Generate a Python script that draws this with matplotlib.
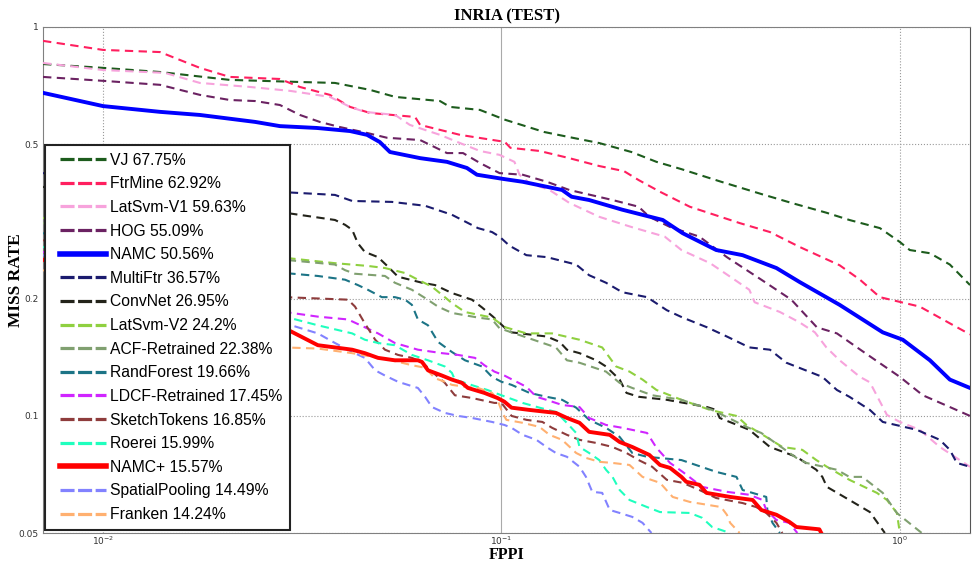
import matplotlib
matplotlib.use("Agg")
import matplotlib.pyplot as plt
import numpy as np

vj_fppi = [0.00707, 0.01, 0.0139, 0.0208, 0.0312, 0.0382, 0.0468, 0.0541, 0.0701, 0.0743, 0.0883, 0.1023, 0.128, 0.148, 0.176, 0.212, 0.245, 0.283, 0.356, 0.449, 0.534, 0.654, 0.747, 0.891, 1.0, 1.059, 1.19, 1.335, 1.5]
vj_mr = [0.803, 0.785, 0.766, 0.731, 0.722, 0.718, 0.689, 0.661, 0.645, 0.623, 0.612, 0.577, 0.537, 0.521, 0.503, 0.477, 0.450, 0.431, 0.400, 0.372, 0.353, 0.333, 0.319, 0.304, 0.280, 0.267, 0.262, 0.245, 0.217]

ftrmine_fppi = [0.00707, 0.01, 0.0139, 0.0175, 0.0208, 0.0278, 0.0312, 0.0371, 0.0417, 0.0468, 0.0607, 0.0625, 0.0787, 0.0989, 0.1015, 0.1053, 0.1246, 0.148, 0.176, 0.203, 0.221, 0.250, 0.297, 0.397, 0.472, 0.560, 0.706, 0.794, 0.891, 1.122, 1.335, 1.5]
ftrmine_mr = [0.921, 0.873, 0.862, 0.785, 0.744, 0.735, 0.701, 0.669, 0.623, 0.601, 0.587, 0.560, 0.528, 0.509, 0.509, 0.489, 0.480, 0.460, 0.439, 0.426, 0.404, 0.377, 0.345, 0.313, 0.297, 0.272, 0.244, 0.224, 0.202, 0.191, 0.173, 0.162]

latsvm1_fppi = [0.00707, 0.01, 0.0143, 0.0175, 0.0234, 0.0295, 0.0371, 0.0417, 0.0454, 0.0541, 0.0589, 0.0701, 0.0787, 0.0883, 0.0989, 0.1078, 0.1110, 0.1176, 0.132, 0.148, 0.176, 0.212, 0.257, 0.283, 0.334, 0.375, 0.419, 0.432, 0.500, 0.560, 0.612, 0.654, 0.706, 0.794, 0.841, 0.928, 1.0, 1.122, 1.26, 1.5]
latsvm1_mr = [0.808, 0.775, 0.762, 0.718, 0.701, 0.685, 0.661, 0.623, 0.605, 0.594, 0.560, 0.528, 0.503, 0.480, 0.469, 0.450, 0.417, 0.397, 0.381, 0.353, 0.325, 0.306, 0.289, 0.267, 0.247, 0.228, 0.211, 0.196, 0.185, 0.174, 0.164, 0.150, 0.139, 0.126, 0.122, 0.1006, 0.0965, 0.0921, 0.0832, 0.0740]

hog_fppi = [0.00707, 0.01, 0.0139, 0.0175, 0.0208, 0.0241, 0.0278, 0.0312, 0.0350, 0.0393, 0.0460, 0.0516, 0.0625, 0.0730, 0.0801, 0.0883, 0.0989, 0.113, 0.130, 0.148, 0.190, 0.221, 0.235, 0.265, 0.314, 0.368, 0.449, 0.534, 0.619, 0.695, 0.827, 1.0, 1.142, 1.335, 1.5]
hog_mr = [0.744, 0.727, 0.710, 0.669, 0.649, 0.645, 0.630, 0.594, 0.570, 0.553, 0.534, 0.519, 0.512, 0.474, 0.474, 0.447, 0.421, 0.417, 0.400, 0.381, 0.359, 0.345, 0.325, 0.306, 0.289, 0.256, 0.224, 0.199, 0.169, 0.163, 0.144, 0.126, 0.113, 0.1054, 0.100]

namc_fppi = [0.00707, 0.01, 0.0139, 0.0175, 0.0241, 0.0278, 0.0344, 0.0417, 0.0460, 0.0495, 0.0525, 0.0625, 0.0730, 0.0819, 0.0868, 0.1006, 0.113, 0.142, 0.150, 0.166, 0.201, 0.254, 0.285, 0.346, 0.403, 0.490, 0.560, 0.706, 0.906, 1.017, 1.19, 1.335, 1.5]
namc_mr = [0.677, 0.626, 0.605, 0.594, 0.570, 0.556, 0.550, 0.540, 0.528, 0.506, 0.477, 0.460, 0.450, 0.434, 0.417, 0.407, 0.400, 0.381, 0.366, 0.359, 0.339, 0.319, 0.295, 0.267, 0.259, 0.240, 0.221, 0.193, 0.164, 0.157, 0.139, 0.124, 0.118]

multiftr_fppi = [0.00707, 0.0286, 0.0382, 0.0422, 0.0531, 0.0643, 0.0751, 0.0873, 0.0947, 0.0989, 0.1047, 0.1155, 0.130, 0.154, 0.166, 0.183, 0.201, 0.232, 0.260, 0.285, 0.328, 0.368, 0.419, 0.472, 0.519, 0.639, 0.695, 0.747, 0.841, 0.906, 1.103, 1.26, 1.335, 1.39, 1.5]
multiftr_mr = [0.421, 0.376, 0.370, 0.357, 0.355, 0.347, 0.329, 0.304, 0.297, 0.289, 0.274, 0.259, 0.256, 0.245, 0.230, 0.220, 0.208, 0.202, 0.187, 0.179, 0.169, 0.160, 0.150, 0.148, 0.137, 0.126, 0.1166, 0.112, 0.1036, 0.0965, 0.0921, 0.0868, 0.0818, 0.0757, 0.074]

convnet_fppi = [0.00707, 0.0286, 0.0382, 0.0405, 0.0422, 0.0436, 0.0454, 0.0490, 0.0519, 0.0550, 0.0632, 0.0681, 0.0751, 0.0843, 0.0894, 0.0952, 0.1023, 0.106, 0.130, 0.140, 0.146, 0.157, 0.173, 0.183, 0.198, 0.206, 0.221, 0.260, 0.328, 0.346, 0.353, 0.419, 0.472, 0.550, 0.617, 0.639, 0.656, 0.747, 0.841, 0.917]
convnet_mr = [0.388, 0.333, 0.319, 0.310, 0.301, 0.278, 0.264, 0.256, 0.242, 0.228, 0.220, 0.217, 0.207, 0.199, 0.190, 0.180, 0.168, 0.164, 0.160, 0.155, 0.148, 0.145, 0.139, 0.134, 0.124, 0.1146, 0.112, 0.110, 0.1054, 0.1036, 0.0988, 0.0921, 0.0832, 0.0785, 0.0727, 0.0697, 0.0657, 0.0608, 0.0566, 0.05]

latsvm2_fppi = [0.00707, 0.0286, 0.0382, 0.0462, 0.0510, 0.0573, 0.0617, 0.0669, 0.0721, 0.0751, 0.081, 0.0947, 0.1023, 0.1155, 0.134, 0.157, 0.179, 0.194, 0.2096, 0.226, 0.245, 0.283, 0.334, 0.389, 0.412, 0.462, 0.507, 0.569, 0.617, 0.656, 0.747, 0.876, 0.928, 0.983, 1.0]
latsvm2_mr = [0.323, 0.255, 0.247, 0.243, 0.240, 0.233, 0.224, 0.215, 0.202, 0.195, 0.185, 0.179, 0.169, 0.163, 0.163, 0.157, 0.150, 0.134, 0.130, 0.124, 0.1166, 0.110, 0.1036, 0.100, 0.0948, 0.0883, 0.0832, 0.0818, 0.0770, 0.0740, 0.0685, 0.0634, 0.0608, 0.0563, 0.05]

acf_fppi = [0.00707, 0.0286, 0.0382, 0.0405, 0.0429, 0.0510, 0.0540, 0.0596, 0.0643, 0.0693, 0.0751, 0.0873, 0.0947, 0.0989, 0.106, 0.137, 0.146, 0.157, 0.183, 0.198, 0.213, 0.239, 0.283, 0.338, 0.380, 0.412, 0.449, 0.507, 0.550, 0.583, 0.695, 0.747, 0.805, 0.906, 0.983, 1.017, 1.135]
acf_mr = [0.313, 0.252, 0.245, 0.237, 0.232, 0.229, 0.220, 0.211, 0.201, 0.191, 0.184, 0.179, 0.177, 0.168, 0.164, 0.150, 0.139, 0.137, 0.130, 0.1216, 0.118, 0.113, 0.110, 0.1036, 0.0977, 0.0937, 0.0904, 0.0828, 0.078, 0.0757, 0.0727, 0.0697, 0.0697, 0.0634, 0.0563, 0.0547, 0.05]

randforest_fppi = [0.00707, 0.0286, 0.0346, 0.0405, 0.0436, 0.0462, 0.0501, 0.0540, 0.0573, 0.0596, 0.0617, 0.0654, 0.0693, 0.0751, 0.081, 0.0894, 0.0947, 0.1, 0.106, 0.1176, 0.1297, 0.142, 0.154, 0.166, 0.183, 0.198, 0.213, 0.232, 0.283, 0.346, 0.389, 0.403, 0.462, 0.465, 0.479, 0.500]
randforest_mr = [0.295, 0.233, 0.229, 0.224, 0.217, 0.211, 0.202, 0.202, 0.199, 0.193, 0.177, 0.171, 0.155, 0.146, 0.139, 0.134, 0.126, 0.1224, 0.1202, 0.1146, 0.112, 0.110, 0.105, 0.0977, 0.0932, 0.0883, 0.0803, 0.0785, 0.077, 0.0718, 0.0697, 0.0645, 0.0619, 0.0573, 0.0531, 0.05]

ldcf_fppi = [0.00707, 0.0286, 0.0346, 0.0412, 0.0454, 0.0490, 0.0540, 0.0617, 0.0709, 0.0778, 0.0858, 0.0906, 0.0960, 0.1017, 0.1155, 0.1224, 0.1297, 0.142, 0.157, 0.166, 0.183, 0.201, 0.232, 0.245, 0.265, 0.285, 0.319, 0.368, 0.419, 0.452, 0.462, 0.490, 0.528, 0.553]
ldcf_mr = [0.264, 0.185, 0.180, 0.177, 0.169, 0.163, 0.154, 0.148, 0.145, 0.1435, 0.141, 0.135, 0.130, 0.127, 0.1188, 0.112, 0.110, 0.1067, 0.1054, 0.0988, 0.0948, 0.0932, 0.0904, 0.0828, 0.0757, 0.0718, 0.0657, 0.0638, 0.0627, 0.0608, 0.0573, 0.0540, 0.0531, 0.05]

sketch_fppi = [0.00707, 0.0286, 0.0412, 0.0429, 0.0454, 0.0482, 0.0510, 0.0550, 0.0596, 0.0632, 0.0669, 0.0721, 0.0764, 0.0843, 0.0960, 0.1, 0.106, 0.1155, 0.1267, 0.134, 0.146, 0.157, 0.173, 0.190, 0.206, 0.221, 0.239, 0.260, 0.285, 0.314, 0.346, 0.403, 0.436, 0.462, 0.490, 0.507]
sketch_mr = [0.283, 0.202, 0.199, 0.191, 0.173, 0.157, 0.148, 0.1435, 0.141, 0.1376, 0.130, 0.1216, 0.1130, 0.1112, 0.108, 0.108, 0.100, 0.0977, 0.0965, 0.0932, 0.0894, 0.0868, 0.0852, 0.0832, 0.0803, 0.077, 0.074, 0.0685, 0.0673, 0.0645, 0.0615, 0.0597, 0.0583, 0.0563, 0.0531, 0.05]

roerei_fppi = [0.00707, 0.0286, 0.0346, 0.0422, 0.0454, 0.0490, 0.0540, 0.0596, 0.0654, 0.0721, 0.0751, 0.0764, 0.0843, 0.0922, 0.1, 0.113, 0.1246, 0.137, 0.146, 0.154, 0.157, 0.166, 0.176, 0.183, 0.190, 0.198, 0.2096, 0.232, 0.250, 0.297, 0.319, 0.338, 0.375]
roerei_mr = [0.272, 0.180, 0.171, 0.163, 0.157, 0.154, 0.152, 0.1435, 0.139, 0.134, 0.129, 0.124, 0.120, 0.1166, 0.113, 0.108, 0.105, 0.1024, 0.0959, 0.0904, 0.0832, 0.0803, 0.077, 0.0727, 0.0697, 0.0645, 0.0608, 0.0583, 0.0566, 0.0563, 0.0547, 0.0518, 0.05]

namcp_fppi = [0.00707, 0.0286, 0.0346, 0.0382, 0.0422, 0.0454, 0.0490, 0.0540, 0.0617, 0.0632, 0.0654, 0.0709, 0.0751, 0.0796, 0.0824, 0.0906, 0.0977, 0.1017, 0.106, 0.1176, 0.137, 0.146, 0.157, 0.166, 0.187, 0.198, 0.213, 0.235, 0.250, 0.265, 0.283, 0.291, 0.314, 0.327, 0.375, 0.427, 0.449, 0.490, 0.528, 0.550, 0.628, 0.635]
namcp_mr = [0.252, 0.168, 0.152, 0.150, 0.148, 0.145, 0.141, 0.139, 0.139, 0.1376, 0.131, 0.127, 0.124, 0.1216, 0.118, 0.1146, 0.1112, 0.1088, 0.105, 0.1036, 0.1018, 0.0988, 0.096, 0.0910, 0.0894, 0.0857, 0.0832, 0.0794, 0.0748, 0.0735, 0.0697, 0.0677, 0.0665, 0.0634, 0.0619, 0.0608, 0.0573, 0.0557, 0.0534, 0.0518, 0.0511, 0.05]

spatial_fppi = [0.00707, 0.0286, 0.0346, 0.0382, 0.0422, 0.0454, 0.0482, 0.0510, 0.0550, 0.0582, 0.0617, 0.0643, 0.0669, 0.0721, 0.0778, 0.0843, 0.0947, 0.1017, 0.106, 0.113, 0.1224, 0.1297, 0.137, 0.146, 0.157, 0.163, 0.169, 0.179, 0.187, 0.198, 0.213, 0.226, 0.238]
spatial_mr = [0.259, 0.173, 0.163, 0.154, 0.146, 0.141, 0.131, 0.127, 0.1224, 0.1202, 0.118, 0.112, 0.1054, 0.1018, 0.100, 0.0988, 0.0965, 0.0948, 0.0932, 0.0894, 0.0868, 0.0832, 0.0803, 0.0785, 0.074, 0.0697, 0.0638, 0.0634, 0.0573, 0.0563, 0.0550, 0.0531, 0.05]

franken_fppi = [0.00707, 0.0286, 0.0346, 0.0422, 0.0473, 0.0531, 0.0596, 0.0643, 0.0681, 0.0721, 0.0751, 0.081, 0.0873, 0.0947, 0.0977, 0.1006, 0.1029, 0.113, 0.1246, 0.132, 0.142, 0.154, 0.163, 0.176, 0.190, 0.2096, 0.226, 0.250, 0.269, 0.297, 0.356, 0.368, 0.375, 0.396]
franken_mr = [0.237, 0.150, 0.149, 0.145, 0.142, 0.139, 0.135, 0.133, 0.125, 0.1224, 0.1202, 0.1188, 0.118, 0.1146, 0.110, 0.1018, 0.0977, 0.096, 0.0937, 0.0894, 0.0868, 0.0803, 0.078, 0.0762, 0.0757, 0.0748, 0.0697, 0.0673, 0.0619, 0.0601, 0.0583, 0.0557, 0.0531, 0.05]

labels = ["VJ 67.75%", "FtrMine 62.92%", "LatSvm-V1 59.63%", "HOG 55.09%", "NAMC 50.56%",
          "MultiFtr 36.57%", "ConvNet 26.95%", "LatSvm-V2 24.2%", "ACF-Retrained 22.38%",
          "RandForest 19.66%", "LDCF-Retrained 17.45%", "SketchTokens 16.85%", "Roerei 15.99%",
          "NAMC+ 15.57%", "SpatialPooling 14.49%", "Franken 14.24%"]
colors = ["#1d5c1d", "#ff1f5f", "#f7a3dc", "#6b2262", "#0000ff", "#1b1b6e", "#23231a", "#8fd040",
          "#80a070", "#1c7486", "#d025ff", "#8e3c3c", "#1fffbe", "#ff0000", "#8282ff", "#ffb070"]
curves = [(vj_fppi, vj_mr), (ftrmine_fppi, ftrmine_mr), (latsvm1_fppi, latsvm1_mr), (hog_fppi, hog_mr),
          (namc_fppi, namc_mr), (multiftr_fppi, multiftr_mr), (convnet_fppi, convnet_mr),
          (latsvm2_fppi, latsvm2_mr), (acf_fppi, acf_mr), (randforest_fppi, randforest_mr),
          (ldcf_fppi, ldcf_mr), (sketch_fppi, sketch_mr), (roerei_fppi, roerei_mr),
          (namcp_fppi, namcp_mr), (spatial_fppi, spatial_mr), (franken_fppi, franken_mr)]
solid = ["NAMC 50.56%", "NAMC+ 15.57%"]

fig = plt.figure(figsize=(9.74, 5.62), dpi=100)
ax = fig.add_axes([0.0442, 0.0516, 0.9517, 0.9004])

for (fx, mr), lab, col in zip(curves, labels, colors):
    if lab in solid:
        ax.plot(fx, mr, '-', color=col, lw=2.8, label=lab, zorder=4)
    else:
        ax.plot(fx, mr, '--', color=col, lw=1.5, dashes=(4, 2.6), label=lab, zorder=3)

ax.set_xscale('log')
ax.set_yscale('log')
ax.set_xlim(0.00707, 1.5)
ax.set_ylim(0.05, 1)
ax.set_yticks([0.05, 0.1, 0.2, 0.5, 1])
ax.set_yticklabels(['0.05', '0.1', '0.2', '0.5', '1'])
ax.set_xticks([0.01, 0.1, 1])
ax.set_xticklabels(['$10^{-2}$', '$10^{-1}$', '$10^{0}$'])
ax.minorticks_off()
ax.tick_params(length=0, labelsize=6.5, colors='#333333', pad=3)
ax.tick_params(axis='x', pad=1.5)
ax.grid(True, which='major', ls=':', color='#999999', lw=0.8)
ax.xaxis.get_gridlines()[1].set_linestyle('-')
ax.xaxis.get_gridlines()[1].set_color('#aaaaaa')
for s in ax.spines.values():
    s.set_color('#808080')
ax.spines['right'].set_color('#555555')

serif = 'Liberation Serif'
ax.set_title('INRIA (TEST)', fontsize=12, fontweight='bold', family=serif, pad=5)
ax.set_xlabel('FPPI', fontsize=11.5, fontweight='bold', family=serif, va='top')
ax.xaxis.set_label_coords(0.5, -0.028)
ax.set_ylabel('MISS RATE', fontsize=12.5, fontweight='bold', family=serif)
ax.yaxis.set_label_coords(-0.021, 0.5)

leg = ax.legend(loc='lower left', bbox_to_anchor=(0.002, 0.006), borderaxespad=0,
                prop={'family': 'Liberation Sans', 'size': 11.3}, fancybox=False,
                framealpha=1, edgecolor='#222222', handlelength=3.4, handletextpad=0.25,
                labelspacing=0.55, borderpad=0.5)
leg.get_frame().set_linewidth(1.5)
for ln in leg.get_lines():
    xd = np.asarray(ln.get_xdata(), dtype=float)
    ln.set_xdata(np.linspace(xd[0] + 5, xd[-1], len(xd)))
    if ln.get_linestyle() == '-':
        ln.set_linewidth(4)
    else:
        ln.set_linewidth(2.3)
        ln.set_dashes([4.4, 1.1])
leg.set_zorder(10)

fig.savefig('out.png', dpi=100)
